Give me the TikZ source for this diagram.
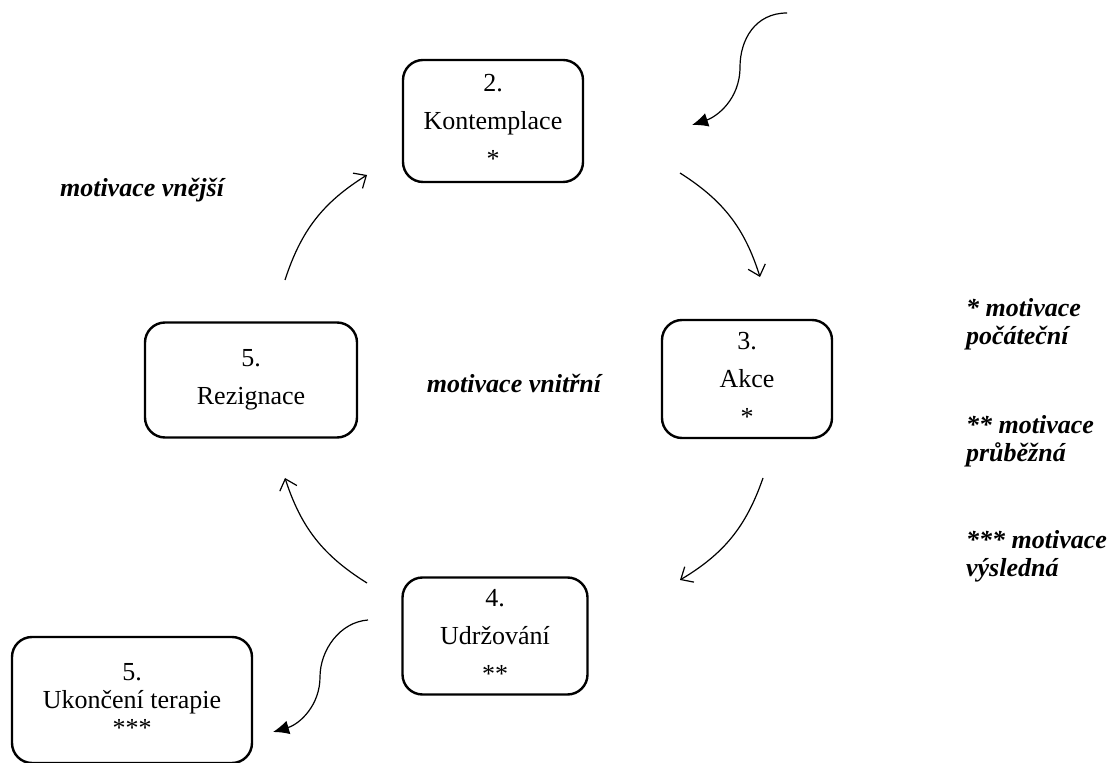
\documentclass[tikz,border=0pt]{standalone}
\usepackage{fontspec}
\setmainfont{Liberation Serif}
\usetikzlibrary{arrows.meta}

\begin{document}
\begin{tikzpicture}[x=0.5pt, y=-0.5pt,
  stage/.style={draw, line width=1.2pt, rounded corners=10pt, align=center,
    inner sep=0pt, font=\fontsize{13}{19}\selectfont},
  turn/.style={line width=0.6pt, -{Straight Barb[length=5pt,width=9pt]}},
  leave/.style={line width=0.6pt, -{Latex[length=8pt,width=7pt]}},
  remark/.style={font=\fontsize{13}{14}\selectfont\bfseries\itshape, align=left}]

\useasboundingbox (0,0) rectangle (1112,763);

\node [stage, minimum width=90pt, minimum height=61pt] (kont) at (493,121) {2.\\Kontemplace\\*};
\node [stage, minimum width=85pt, minimum height=59pt] (akce) at (747,379) {3.\\Akce\\*};
\node [stage, minimum width=106pt, minimum height=57.5pt] (rezig) at (251,380) {5.\\Rezignace};
\node [stage, minimum width=92.5pt, minimum height=58.5pt] (udrz) at (495,636) {4.\\Udržování\\**};
\node [stage, minimum width=120pt, minimum height=63pt, font=\fontsize{13}{14}\selectfont]
  (konec) at (132,700) {5.\\Ukončení terapie\\***};

\coordinate (ka1) at (680,173);
\coordinate (ka2) at (760,277);
\coordinate (au1) at (763,478);
\coordinate (au2) at (680,580);
\coordinate (ur1) at (367,583);
\coordinate (ur2) at (285,478);
\coordinate (rk1) at (285,280);
\coordinate (rk2) at (367,175);
\coordinate (in1) at (787,13);
\coordinate (in2) at (692,125);
\coordinate (out1) at (368,620);
\coordinate (out2) at (273,732);

% cycle
\draw [turn] (ka1) to [bend left=20] (ka2);
\draw [turn] (au1) to [bend left=20] (au2);
\draw [turn] (ur1) to [bend left=20] (ur2);
\draw [turn] (rk1) to [bend left=20] (rk2);

% entry and exit
\draw [leave] (in1) .. controls (755,13) and (740,40) .. (740,67)
  .. controls (740,100) and (716,117) .. (in2);
\draw [leave] (out1) .. controls (340,622) and (320,650) .. (320,677)
  .. controls (320,705) and (300,724) .. (out2);

\node [remark] (vnejsi) at (142,190) {motivace vnější};
\node [remark] (vnitrni) at (514,383) {motivace vnitřní};

\node [remark, anchor=west] (pocat) at (959,324) {* motivace\\počáteční};
\node [remark, anchor=west] (prubez) at (959,441) {** motivace\\průběžná};
\node [remark, anchor=west] (vysled) at (959,556) {*** motivace\\výsledná};

\end{tikzpicture}
\end{document}
